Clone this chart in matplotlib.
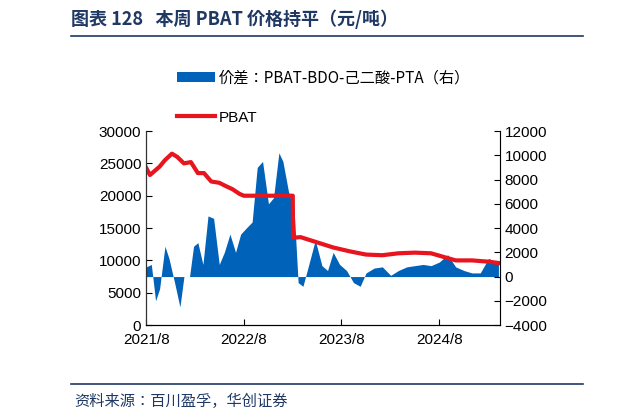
import matplotlib.pyplot as plt
import matplotlib.dates as mdates
from matplotlib import font_manager
import pandas as pd

cjk_names = sorted({f.name for f in font_manager.fontManager.ttflist if 'CJK' in f.name})
cjk = 'Noto Sans CJK SC' if 'Noto Sans CJK SC' in cjk_names else (cjk_names[0] if cjk_names else 'DejaVu Sans')
plt.rcParams['font.family'] = 'sans-serif'
plt.rcParams['font.sans-serif'] = ['Liberation Sans', cjk]

# spread (right axis), yuan/ton
spread_dates = ['2021-08-01', '2021-08-20', '2021-09-05', '2021-09-20', '2021-10-10', '2021-10-25',
                '2021-11-15', '2021-12-05', '2021-12-20', '2022-01-10', '2022-01-25', '2022-02-10',
                '2022-03-01', '2022-03-20', '2022-04-10', '2022-05-01', '2022-05-20', '2022-06-10',
                '2022-07-01', '2022-07-20', '2022-08-10', '2022-09-01', '2022-09-20', '2022-10-10',
                '2022-11-01', '2022-11-20', '2022-12-10', '2022-12-25', '2023-01-15', '2023-02-05',
                '2023-02-20', '2023-03-10', '2023-04-01', '2023-04-25', '2023-05-20', '2023-06-10',
                '2023-07-01', '2023-07-25', '2023-08-20', '2023-09-15', '2023-10-10', '2023-11-01',
                '2023-12-01', '2024-01-01', '2024-02-01', '2024-03-01', '2024-04-01', '2024-05-01',
                '2024-06-01', '2024-07-01', '2024-08-01', '2024-09-01', '2024-10-01', '2024-11-01',
                '2024-12-01', '2025-01-01', '2025-02-01', '2025-03-10']
spread = [800, 1000, -2000, -1000, 2500, 1500, -500, -2500, 0, 0, 2500, 2800,
          1000, 5000, 4800, 1000, 2000, 3500, 2000, 3500, 4000, 4500, 9000, 9500,
          6000, 6500, 10200, 9500, 7000, 5500, -500, -800, 1000, 3000, 900, 500,
          2000, 1000, 500, -500, -800, 300, 700, 800, 100, 500, 800, 900,
          1000, 900, 1200, 1800, 800, 500, 300, 300, 1500, 1100]

# PBAT price (left axis)
pbat_dates = ['2021-08-01', '2021-08-15', '2021-09-20', '2021-10-10', '2021-11-05', '2021-11-25',
              '2021-12-20', '2022-01-15', '2022-02-10', '2022-03-05', '2022-04-01', '2022-05-01',
              '2022-05-25', '2022-06-20', '2022-07-15', '2022-08-01', '2023-01-31', '2023-02-01',
              '2023-03-01', '2023-05-01', '2023-07-01', '2023-09-01', '2023-11-01', '2024-01-01',
              '2024-03-01', '2024-05-01', '2024-07-01', '2024-08-20', '2024-10-01', '2024-12-01',
              '2025-02-01', '2025-03-10']
pbat = [24300, 23200, 24500, 25500, 26500, 26000, 25000, 25200, 23500, 23500, 22200, 22000,
        21500, 21000, 20300, 20000, 20000, 13500, 13600, 12800, 12000, 11400, 10900, 10800,
        11100, 11200, 11100, 10500, 10000, 10000, 9800, 9600]

fig = plt.figure(figsize=(6.17, 4.2), dpi=100)
ax = fig.add_axes([0.237, 0.226, 0.573, 0.462])
ax2 = ax.twinx()

sd = pd.to_datetime(spread_dates)
pd_ = pd.to_datetime(pbat_dates)
ax2.fill_between(sd, 0, spread, color='#0062B8', lw=0)
ax.plot(pd_, pbat, color='#E8141E', lw=3)
ax.set_zorder(2)
ax.patch.set_visible(False)

ax.set_ylim(0, 30000)
ax.set_yticks(range(0, 30001, 5000))
ax2.set_ylim(-4000, 12000)
ax2.set_yticks(range(-4000, 12001, 2000))
ax.set_xlim(pd.Timestamp('2021-08-01'), pd.Timestamp('2025-03-15'))
ax.set_xticks(pd.to_datetime(['2021-08-01', '2022-08-01', '2023-08-01', '2024-08-01']))
ax.xaxis.set_major_formatter(mdates.DateFormatter('%Y/%-m'))
ax.tick_params(axis='x', pad=6)
for a in (ax, ax2):
    a.tick_params(labelsize=11, direction='in', length=4)
    a.spines['top'].set_visible(False)
ax2.spines['right'].set_color('#999999')
ax.spines['left'].set_color('#333333')

fig.legend(handles=[ax2.collections[0]], labels=['价差：PBAT-BDO-己二酸-PTA（右）'],
           loc='center left', bbox_to_anchor=(0.265, 0.815), frameon=False,
           handlelength=2.5, handletextpad=0.2, prop={'family': cjk, 'size': 11})
fig.legend(handles=ax.lines, labels=['PBAT'], loc='center left', bbox_to_anchor=(0.265, 0.72),
           frameon=False, fontsize=11, handlelength=2.5, handletextpad=0.2)

fig.text(0.115, 0.955, '图表 128   本周 PBAT 价格持平（元/吨）', fontsize=13, fontweight='bold',
         color='#1F3864', va='center', family=cjk)
fig.add_artist(plt.Line2D([0.115, 0.945], [0.915, 0.915], color='#1F3864', lw=1.2))
fig.add_artist(plt.Line2D([0.115, 0.945], [0.085, 0.085], color='#1F3864', lw=1.2))
fig.text(0.12, 0.045, '资料来源：百川盈孚，华创证券', fontsize=11, style='italic',
         color='#1F3864', va='center', family=cjk)

fig.savefig('out.png', dpi=100)
